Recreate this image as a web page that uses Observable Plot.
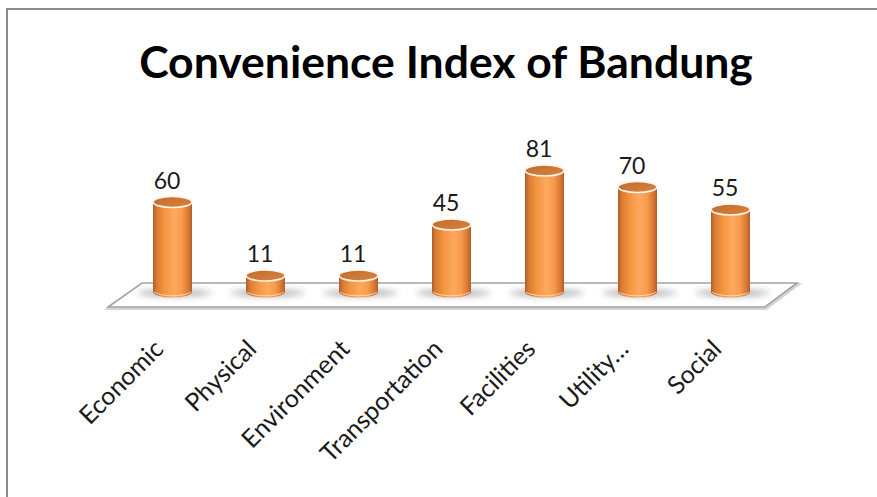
<!DOCTYPE html>
<html>
<head>
<meta charset="utf-8">
<script src="https://cdn.jsdelivr.net/npm/d3@7"></script>
<script src="https://cdn.jsdelivr.net/npm/@observablehq/plot@0.6"></script>
<style>
  html, body { margin: 0; padding: 0; background: #fff; width: 877px; height: 497px; overflow: hidden; }
  #frame { position: absolute; left: 6px; top: 8px; width: 910px; height: 540px; border: 2px solid #8c8c8c; box-sizing: border-box; }
  #title { position: absolute; left: 0; width: 892px; top: 39px; text-align: center; font: bold 44.5px Lato, "Open Sans", sans-serif; line-height: 1; color: #000; white-space: nowrap; }
  #chart { position: absolute; left: 0; top: 0; }
</style>
</head>
<body>
<div id="frame"></div>
<div id="title">Convenience Index of Bandung</div>
<div id="chart"></div>
<script>
const categories = ["Economic", "Physical", "Environment", "Transportation", "Facilities", "Utility…", "Social"];
const values = [60, 11, 11, 45, 81, 70, 55];
const yDomain = [0, 100];

const data = categories.map((c, i) => ({category: c, value: values[i]}));

// Floor (oblique platform) drawn from the plot's own x range and y(0)
function floorRender(index, scales, vals, dim) {
  const g = d3.create("svg:g");
  const xl = dim.marginLeft, xr = dim.width - dim.marginRight;
  const y0 = scales.y(0);
  const back = y0 - 9, front = y0 + 15;
  const pts = [[xl + 18, back], [xr + 17, back], [xr - 15, front], [xl - 16, front]];
  const d = "M" + pts.map(p => p.join(",")).join("L") + "Z";
  g.append("path").attr("d", d).attr("fill", "none").attr("stroke", "#d4d4d4").attr("stroke-width", 3)
    .attr("transform", "translate(1,1.5)");
  g.append("path").attr("d", d).attr("fill", "#fff").attr("stroke", "#a3a3a3").attr("stroke-width", 1.6)
    .attr("stroke-linejoin", "miter");
  return g.node();
}

// Cylinders drawn from the bar mark's scaled channels
function cylinderRender(index, scales, vals) {
  const g = d3.create("svg:g");
  const defs = g.append("defs");
  const body = defs.append("linearGradient").attr("id", "cylBody").attr("x1", 0).attr("x2", 1).attr("y1", 0).attr("y2", 0);
  [[0, "#b25e27"], [0.1, "#d97c36"], [0.3, "#f5953f"], [0.55, "#fca95f"], [0.75, "#f79a4b"], [0.92, "#d47532"], [1, "#b25e27"]]
    .forEach(([o, c]) => body.append("stop").attr("offset", o).attr("stop-color", c));
  const top = defs.append("linearGradient").attr("id", "cylTop").attr("x1", 0).attr("x2", 1).attr("y1", 0).attr("y2", 1);
  [[0, "#c06b2d"], [1, "#d9843e"]].forEach(([o, c]) => top.append("stop").attr("offset", o).attr("stop-color", c));
  const blur = defs.append("filter").attr("id", "shadowBlur").attr("x", "-50%").attr("y", "-200%").attr("width", "200%").attr("height", "500%");
  blur.append("feGaussianBlur").attr("stdDeviation", 3);

  const bw = scales.x.bandwidth();
  const rx = bw / 2, ry = 5.5;
  for (const i of index) {
    const x = vals.x[i];
    const cx = x + rx;
    const yb = Math.max(vals.y1[i], vals.y2[i]);
    const yt = Math.min(vals.y1[i], vals.y2[i]);
    // soft shadow on the floor
    g.append("ellipse").attr("cx", cx + 2).attr("cy", yb + 1).attr("rx", rx + 18).attr("ry", 3.5)
      .attr("fill", "#7d7d7d").attr("opacity", 0.55).attr("filter", "url(#shadowBlur)");
    // body
    g.append("path")
      .attr("d", `M${x},${yt}L${x},${yb}A${rx},${ry} 0 0 0 ${x + bw},${yb}L${x + bw},${yt}Z`)
      .attr("fill", "url(#cylBody)");
    // bottom rim highlight
    g.append("path")
      .attr("d", `M${x + 1},${yb}A${rx},${ry} 0 0 0 ${x + bw - 1},${yb}`)
      .attr("fill", "none").attr("stroke", "#fde3cc").attr("stroke-width", 1).attr("opacity", 0.8);
    // top cap
    g.append("ellipse").attr("cx", cx).attr("cy", yt).attr("rx", rx).attr("ry", ry)
      .attr("fill", "url(#cylTop)").attr("stroke", "#fff4ea").attr("stroke-width", 1.6);
  }
  return g.node();
}

const chart = Plot.plot({
  width: 877,
  height: 497,
  marginLeft: 124,
  marginRight: 97,
  marginTop: 142,
  marginBottom: 205,
  style: {background: "transparent", overflow: "visible"},
  x: {domain: categories, paddingInner: 0.58, paddingOuter: 0.29, axis: null},
  y: {domain: yDomain, axis: null},
  marks: [
    Plot.ruleY([0], {render: floorRender}),
    Plot.barY(data, {x: "category", y: "value", render: cylinderRender}),
    Plot.text(data, {
      x: "category", y: "value", text: d => String(d.value),
      dx: -6, dy: -14, lineAnchor: "bottom",
      fontSize: 23, fontFamily: "Lato, 'Open Sans', sans-serif", fill: "#1a1a1a"
    }),
    Plot.text(data, {
      x: "category", y: d => 0, text: "category",
      rotate: -45, textAnchor: "end", lineAnchor: "bottom",
      dx: -8, dy: 58,
      fontSize: 25, fontFamily: "Lato, 'Open Sans', sans-serif", fill: "#1a1a1a"
    })
  ]
});
document.getElementById("chart").appendChild(chart);
</script>
</body>
</html>
